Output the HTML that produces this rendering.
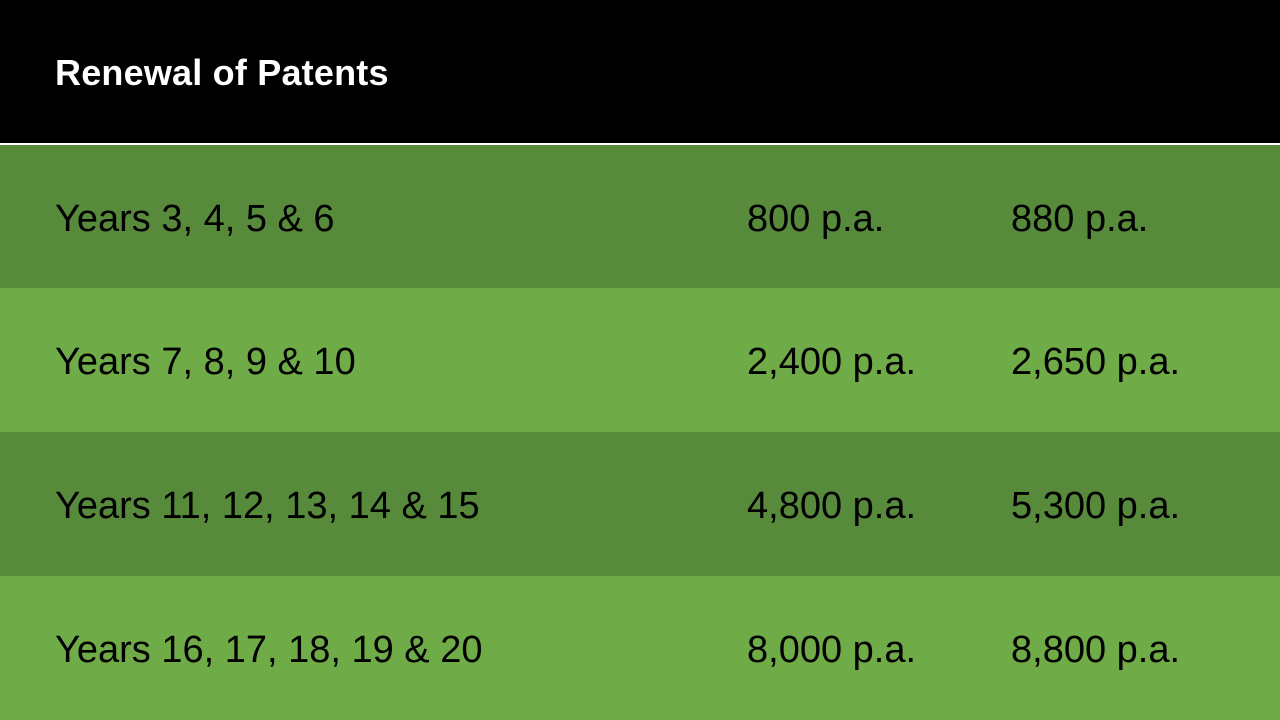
<!DOCTYPE html>
<html><head><meta charset="utf-8"><style>
html,body{margin:0;padding:0;width:1280px;height:720px;overflow:hidden;background:#000;font-family:"Liberation Sans",sans-serif;}
.hdr{position:absolute;left:0;top:0;width:1280px;height:143px;background:#000;}
.hdr h1{position:absolute;left:55px;top:53px;margin:0;color:#fff;font-size:36px;line-height:40px;font-weight:bold;letter-spacing:0.2px;}
.line{position:absolute;left:0;top:143px;width:1280px;height:2px;background:#fff;}
.row{position:absolute;left:0;width:1280px;height:144px;}
.row span{position:absolute;top:50%;transform:translateY(-46%);font-size:38px;line-height:44px;color:#000;letter-spacing:0px;white-space:nowrap;}
.c1{left:55px}.c2{left:747px}.c3{left:1011px}
.d{background:#578A3A}.l{background:#6FAB47}
</style></head><body>
<div class="hdr"><h1>Renewal of Patents</h1></div>
<div class="line"></div>
<div class="row d" style="top:145px;height:143px"><span class="c1">Years 3, 4, 5 &amp; 6</span><span class="c2">800 p.a.</span><span class="c3">880 p.a.</span></div>
<div class="row l" style="top:288px"><span class="c1">Years 7, 8, 9 &amp; 10</span><span class="c2">2,400 p.a.</span><span class="c3">2,650 p.a.</span></div>
<div class="row d" style="top:432px"><span class="c1">Years 11, 12, 13, 14 &amp; 15</span><span class="c2">4,800 p.a.</span><span class="c3">5,300 p.a.</span></div>
<div class="row l" style="top:576px"><span class="c1">Years 16, 17, 18, 19 &amp; 20</span><span class="c2">8,000 p.a.</span><span class="c3">8,800 p.a.</span></div>
</body></html>
